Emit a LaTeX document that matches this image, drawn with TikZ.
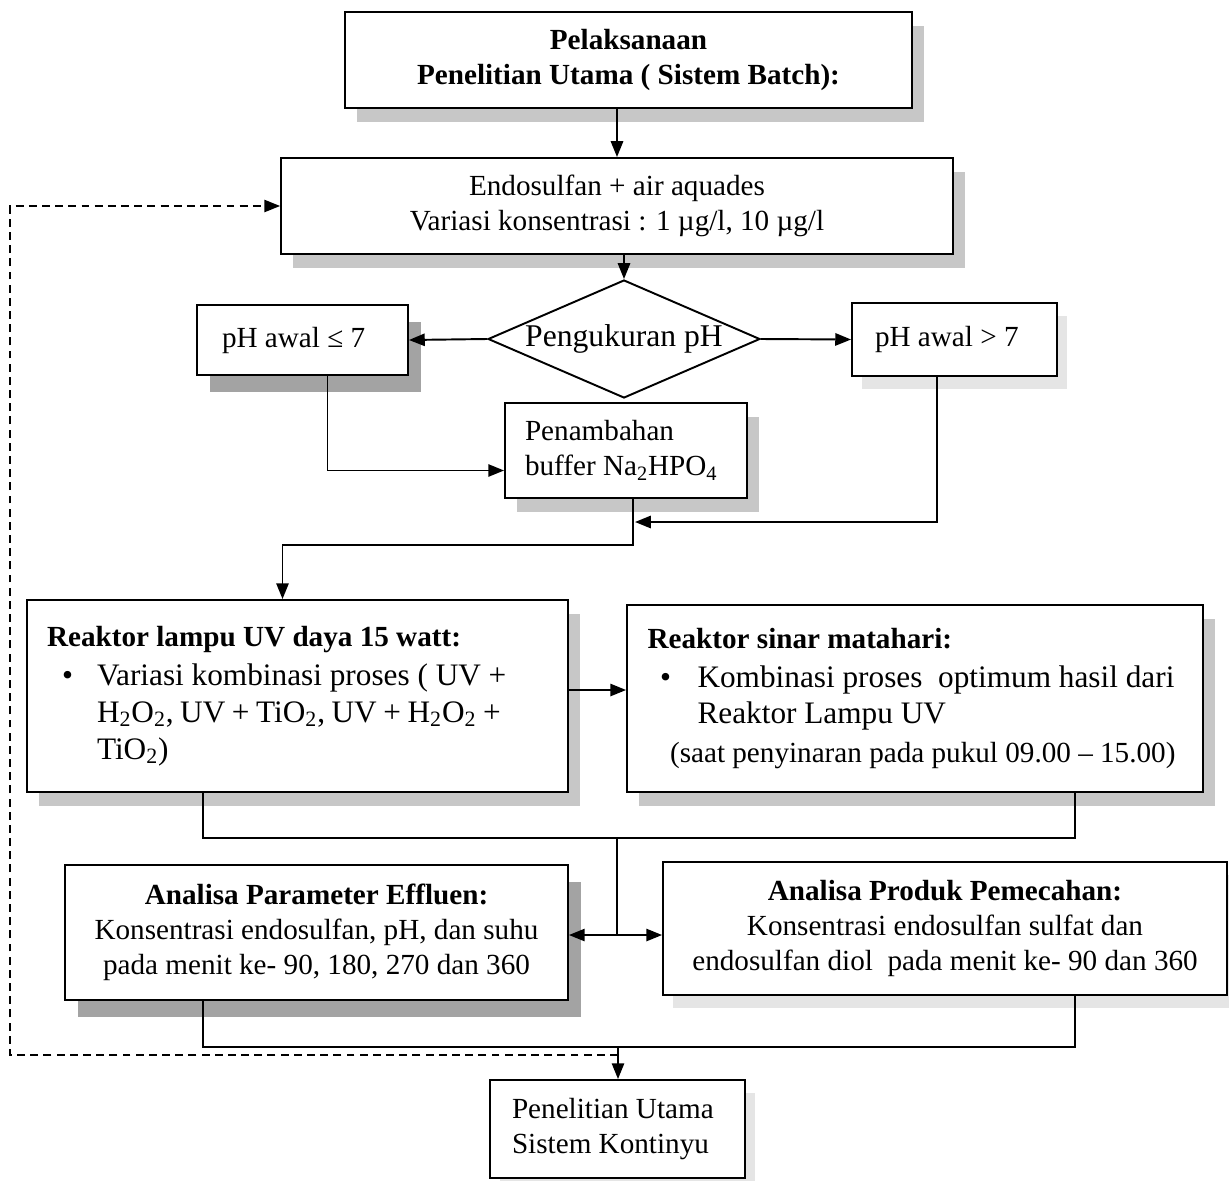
\documentclass[tikz,border=0pt]{standalone}
\usepackage{fontspec}
\setmainfont{Liberation Serif}
\usetikzlibrary{shapes.geometric,arrows.meta,shadows}

\begin{document}
\begin{tikzpicture}[
x=0.02cm,y=-0.02cm,
font=\fontsize{16.6}{20}\selectfont,
box/.style={draw,line width=1.1pt,fill=white,align=center,inner sep=0pt},
lbox/.style={box,align=flush left},
bigtext/.style={font=\fontsize{17.8}{21}\selectfont},
shadowlt/.style={drop shadow={shadow xshift=0.24cm,shadow yshift=-0.28cm,fill=black!22,opacity=1}},
shadowdk/.style={drop shadow={shadow xshift=0.26cm,shadow yshift=-0.34cm,fill=black!36,opacity=1}},
shadowfa/.style={drop shadow={shadow xshift=0.2cm,shadow yshift=-0.26cm,fill=black!10,opacity=1}},
decide/.style={diamond,draw,line width=1.1pt,aspect=2.3,inner sep=0pt,minimum width=5.44cm,minimum height=2.36cm,font=\fontsize{18}{21}\selectfont},
line/.style={line width=1.1pt},
arr/.style={line,-{Triangle[length=9pt,width=7pt]}},
darr/.style={arr,line width=0.9pt,dash pattern=on 4.5pt off 3pt}
]
\useasboundingbox (0,0) rectangle (1229,1180);

\node[box,shadowlt,minimum width=11.34cm,minimum height=1.92cm] (title) at (628.5,60)
  {\textbf{Pelaksanaan}\\\textbf{Penelitian Utama ( Sistem Batch):}};
\node[box,shadowlt,minimum width=13.44cm,minimum height=1.92cm] (endo) at (617,206)
  {Endosulfan + air aquades\\Variasi konsentrasi : 1 µg/l, 10 µg/l};
\node[decide] (ukur) at (624,339) {Pengukuran pH};
\node[lbox,shadowdk,text width=3.22cm,inner xsep=0.5cm,minimum height=1.4cm] (leB) at (302.5,340)
  {pH awal ≤ 7};
\node[lbox,shadowfa,text width=3.18cm,inner xsep=0.46cm,minimum height=1.46cm] (gtB) at (954.5,339.5)
  {pH awal > 7};
\node[lbox,shadowlt,text width=4.04cm,inner xsep=0.4cm,minimum height=1.9cm] (buf) at (626,450.5)
  {Penambahan\\buffer Na\textsubscript{2}HPO\textsubscript{4}};

\node[lbox,bigtext,shadowlt,text width=10.02cm,inner xsep=0.4cm,minimum height=3.84cm] (uvB) at (297.5,696)
  {{\fontsize{16.6}{21}\selectfont\bfseries Reaktor lampu UV daya 15 watt:}\\[1pt]
   \makebox[1cm][l]{\hspace{0.3cm}•}Variasi kombinasi proses ( UV +\\
   \hspace*{1cm}{\spaceskip=0.21em plus 0.05em H\textsubscript{2}O\textsubscript{2}, UV + TiO\textsubscript{2}, UV + H\textsubscript{2}O\textsubscript{2} +}\\
   \hspace*{1cm}TiO\textsubscript{2})};
\node[lbox,bigtext,shadowlt,text width=10.7cm,inner xsep=0.41cm,minimum height=3.74cm] (sunB) at (915,698.5)
  {{\fontsize{16.6}{21}\selectfont\bfseries Reaktor sinar matahari:}\\[1pt]
   \makebox[1cm][l]{\hspace{0.25cm}•}Kombinasi proses\ \ optimum hasil dari\\
   \hspace*{1cm}Reaktor Lampu UV\\[1pt]
   \hspace*{0.45cm}{\fontsize{16.6}{21}\selectfont (saat penyinaran pada pukul 09.00 – 15.00)}};

\node[box,shadowdk,minimum width=10.06cm,minimum height=2.7cm] (effB) at (316.5,932.5)
  {\textbf{Analisa Parameter Effluen:}\\Konsentrasi endosulfan, pH, dan suhu\\pada menit ke- 90, 180, 270 dan 360};
\node[box,shadowfa,minimum width=11.28cm,minimum height=2.66cm] (prodB) at (945,928.5)
  {\textbf{Analisa Produk Pemecahan:}\\Konsentrasi endosulfan sulfat dan\\endosulfan diol\ \ pada menit ke- 90 dan 360};
\node[lbox,shadowfa,text width=4.22cm,inner xsep=0.44cm,minimum height=1.96cm] (fin) at (617.5,1129)
  {Penelitian Utama\\Sistem Kontinyu};

% junction points
\coordinate (m1) at (635,522);
\coordinate (m2) at (633,545);
\coordinate (c1) at (617,838);
\coordinate (c2) at (617,935);
\coordinate (c3) at (618,1047);
\coordinate (d1) at (618,1055);
\coordinate (d2) at (10,1055);

\draw[arr] (title.south -| endo.north) -- (endo.north);
\draw[arr] (ukur.north |- endo.south) -- (ukur.north);
\draw[arr] (ukur.west) -- (leB.east);
\draw[arr] (ukur.east) -- (gtB.west);
\draw[arr] ([xshift=0.5cm]leB.south) |- ([yshift=-0.4cm]buf.west);
\draw[arr] ([xshift=-0.35cm]gtB.south) |- (m1);
\draw[arr] (buf.south -| m2) -- (m2) -| ([xshift=-0.3cm]uvB.north);
\draw[arr] ([yshift=0.12cm]uvB.east) -- ([yshift=0.12cm]uvB.east -| sunB.west);

\draw[line] ([xshift=-1.89cm]uvB.south) |- (c1) -| ([xshift=3.2cm]sunB.south);
\draw[arr] (c1) -- (c2) -- (c2 -| effB.east);
\draw[arr] (c2) -- (c2 -| prodB.west);

\draw[line] ([xshift=-2.27cm]effB.south) |- (c3) -| ([xshift=2.6cm]prodB.south);
\draw[arr] (c3) -- (c3 |- fin.north);
\draw[darr] (d1) -- (d2) |- (endo.west);

\end{tikzpicture}
\end{document}
